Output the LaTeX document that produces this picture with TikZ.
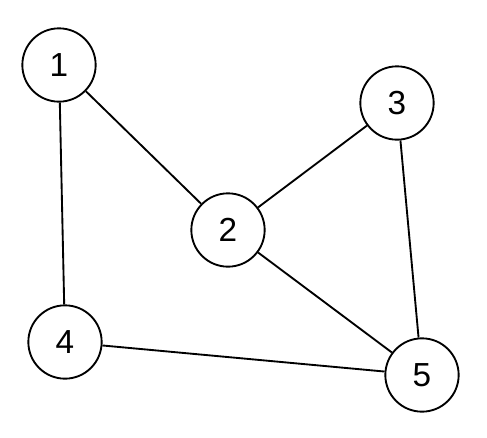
\documentclass[tikz,border=0pt]{standalone}
\usepackage{fontspec}
\setmainfont{Liberation Sans}
\usepackage{tikz}

\tikzset{
    vertex/.style={
        circle,
        draw=black,
        line width=1.4pt,
        fill=white,
        inner sep=0pt,
        minimum size=55pt,
        font=\fontsize{25}{30}\selectfont
    },
    edge/.style={
        line width=1.4pt,
        black
    }
}

\begin{document}
\begin{tikzpicture}[x=0.75pt, y=-0.75pt]

% Marges
\useasboundingbox (0,0) rectangle (487,437);

% Vertexs
\node[vertex] (v1) at (59,65)   {1};
\node[vertex] (v3) at (397,103) {3};
\node[vertex] (v2) at (228,230) {2};
\node[vertex] (v4) at (65,342)  {4};
\node[vertex] (v5) at (422,375) {5};

% Arestes
\draw[edge] (v1) -- (v2);
\draw[edge] (v1) -- (v4);
\draw[edge] (v2) -- (v3);
\draw[edge] (v2) -- (v5);
\draw[edge] (v3) -- (v5);
\draw[edge] (v4) -- (v5);

\end{tikzpicture}
\end{document}
